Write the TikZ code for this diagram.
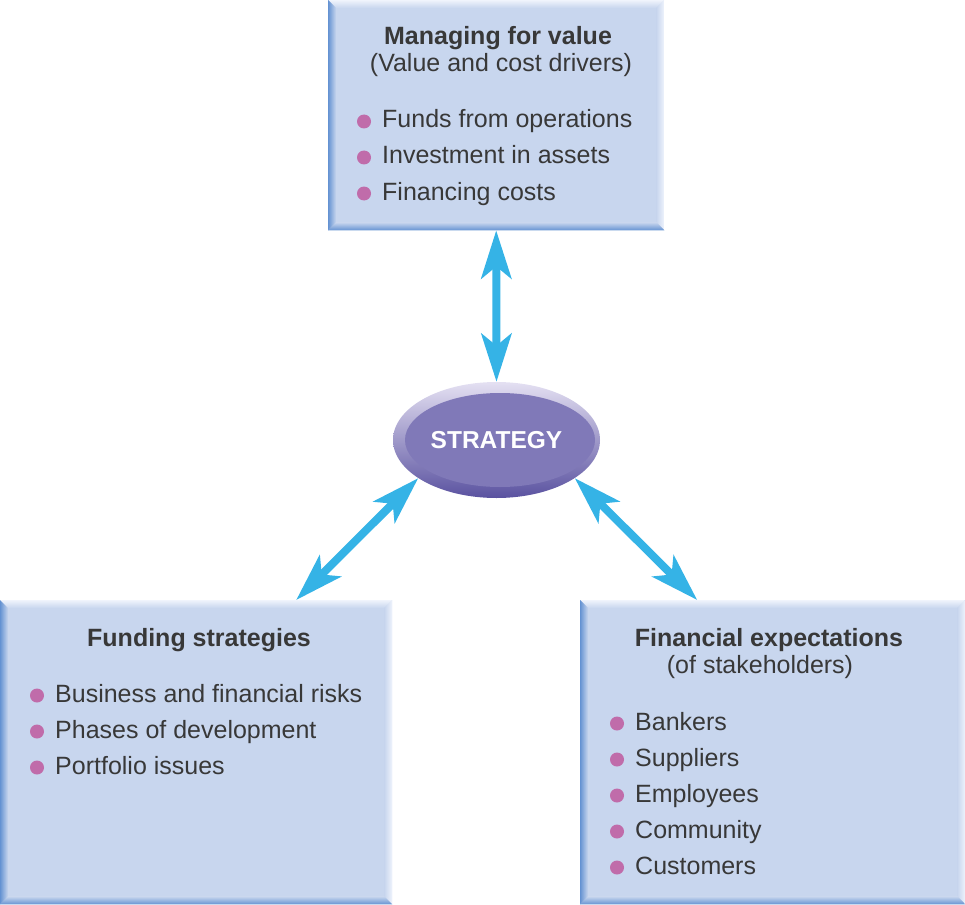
\documentclass[tikz,border=0pt]{standalone}
\usepackage{fontspec}
\setmainfont{Liberation Sans}
\usetikzlibrary{arrows.meta,shapes.geometric,calc}
\definecolor{boxfill}{RGB}{200,214,238}
\definecolor{bevdark}{RGB}{100,146,210}
\definecolor{bevlight}{RGB}{240,244,252}
\definecolor{linkblue}{RGB}{53,179,230}
\definecolor{dotpink}{RGB}{192,108,170}
\definecolor{inktext}{RGB}{56,56,56}
\definecolor{stratlight}{RGB}{228,224,242}
\definecolor{stratdark}{RGB}{90,82,160}
\definecolor{stratfill}{RGB}{128,121,184}
\newcommand\bodysize{\fontsize{25pt}{30pt}\selectfont}
\tikzset{
	panel/.style={fill=boxfill,inner sep=0pt,anchor=north west},
	link/.style={draw=linkblue,line width=8pt,>={Stealth[length=48pt,width=30pt,inset=12pt]},<->},
	head/.style={font=\bfseries\bodysize,text=inktext,inner sep=0pt,anchor=base},
	item/.style={text=inktext,inner sep=0pt,anchor=base west},
	dot/.style={circle,fill=dotpink,inner sep=0pt,minimum size=14pt},
}
% bevelled edges of a panel
\newcommand\bevel[1]{%
	\shade[top color=bevlight,bottom color=boxfill] (#1.north west) -- (#1.north east) -- ($(#1.north east)+(-8,8)$) -- ($(#1.north west)+(8,8)$) -- cycle;
	\shade[left color=bevdark,right color=boxfill] (#1.north west) -- ($(#1.north west)+(8,8)$) -- ($(#1.south west)+(8,-8)$) -- (#1.south west) -- cycle;
	\shade[left color=boxfill,right color=bevlight] (#1.north east) -- (#1.south east) -- ($(#1.south east)+(-8,-8)$) -- ($(#1.north east)+(-8,8)$) -- cycle;
	\shade[top color=boxfill,bottom color=bevdark] (#1.south west) -- ($(#1.south west)+(8,-8)$) -- ($(#1.south east)+(-8,-8)$) -- (#1.south east) -- cycle;
}
\begin{document}
\begin{tikzpicture}[x=1pt,y=-1pt,line join=round,font=\bodysize]
	\useasboundingbox (0,0) rectangle (965,904);
	\node[panel,minimum width=336pt,minimum height=230pt] (value) at (328,0) {};
	\node[panel,minimum width=392pt,minimum height=304pt] (funding) at (0,600) {};
	\node[panel,minimum width=385pt,minimum height=304pt] (expect) at (580,600) {};
	\bevel{value}\bevel{funding}\bevel{expect}
	\node[ellipse,minimum width=207pt,minimum height=116pt,inner sep=0pt,top color=stratlight,bottom color=stratdark,
		path picture={\fill[stratfill] ([xshift=3.5pt]path picture bounding box.center) ellipse [x radius=95pt,y radius=47pt];},
		text=white,font=\bfseries\fontsize{24.5pt}{29pt}\selectfont] (strategy) at (496.5,440) {STRATEGY};
	\draw[link] (value.south) -- (strategy.north);
	\draw[link] (strategy.206) -- ([xshift=100pt]funding.north);
	\draw[link] (strategy.334) -- ([xshift=-75.5pt]expect.north);
	% managing for value
	\node[head] (valuehead) at (498,45) {Managing for value};
	\node[item,anchor=base] (valuesub) at (501,72) {(Value and cost drivers)};
	\foreach \t [count=\i] in {Funds from operations,Investment in assets,Financing costs}{
		\node[dot] (vdot\i) at (364,{85.5+36*\i}) {};
		\node[item] (vitem\i) at (382,{92+36*\i}) {\t};
	}
	% funding strategies
	\node[head] (fundhead) at (199,646) {Funding strategies};
	\foreach \t [count=\i] in {Business and financial risks,Phases of development,Portfolio issues}{
		\node[dot] (fdot\i) at (37,{659.5+36*\i}) {};
		\node[item] (fitem\i) at (55,{666+36*\i}) {\t};
	}
	% financial expectations
	\node[head] (expecthead) at (769,646) {Financial expectations};
	\node[item,anchor=base] (expectsub) at (760,673) {(of stakeholders)};
	\foreach \t [count=\i] in {Bankers,Suppliers,Employees,Community,Customers}{
		\node[dot] (edot\i) at (617,{687.5+36*\i}) {};
		\node[item] (eitem\i) at (635,{694+36*\i}) {\t};
	}
\end{tikzpicture}
\end{document}
